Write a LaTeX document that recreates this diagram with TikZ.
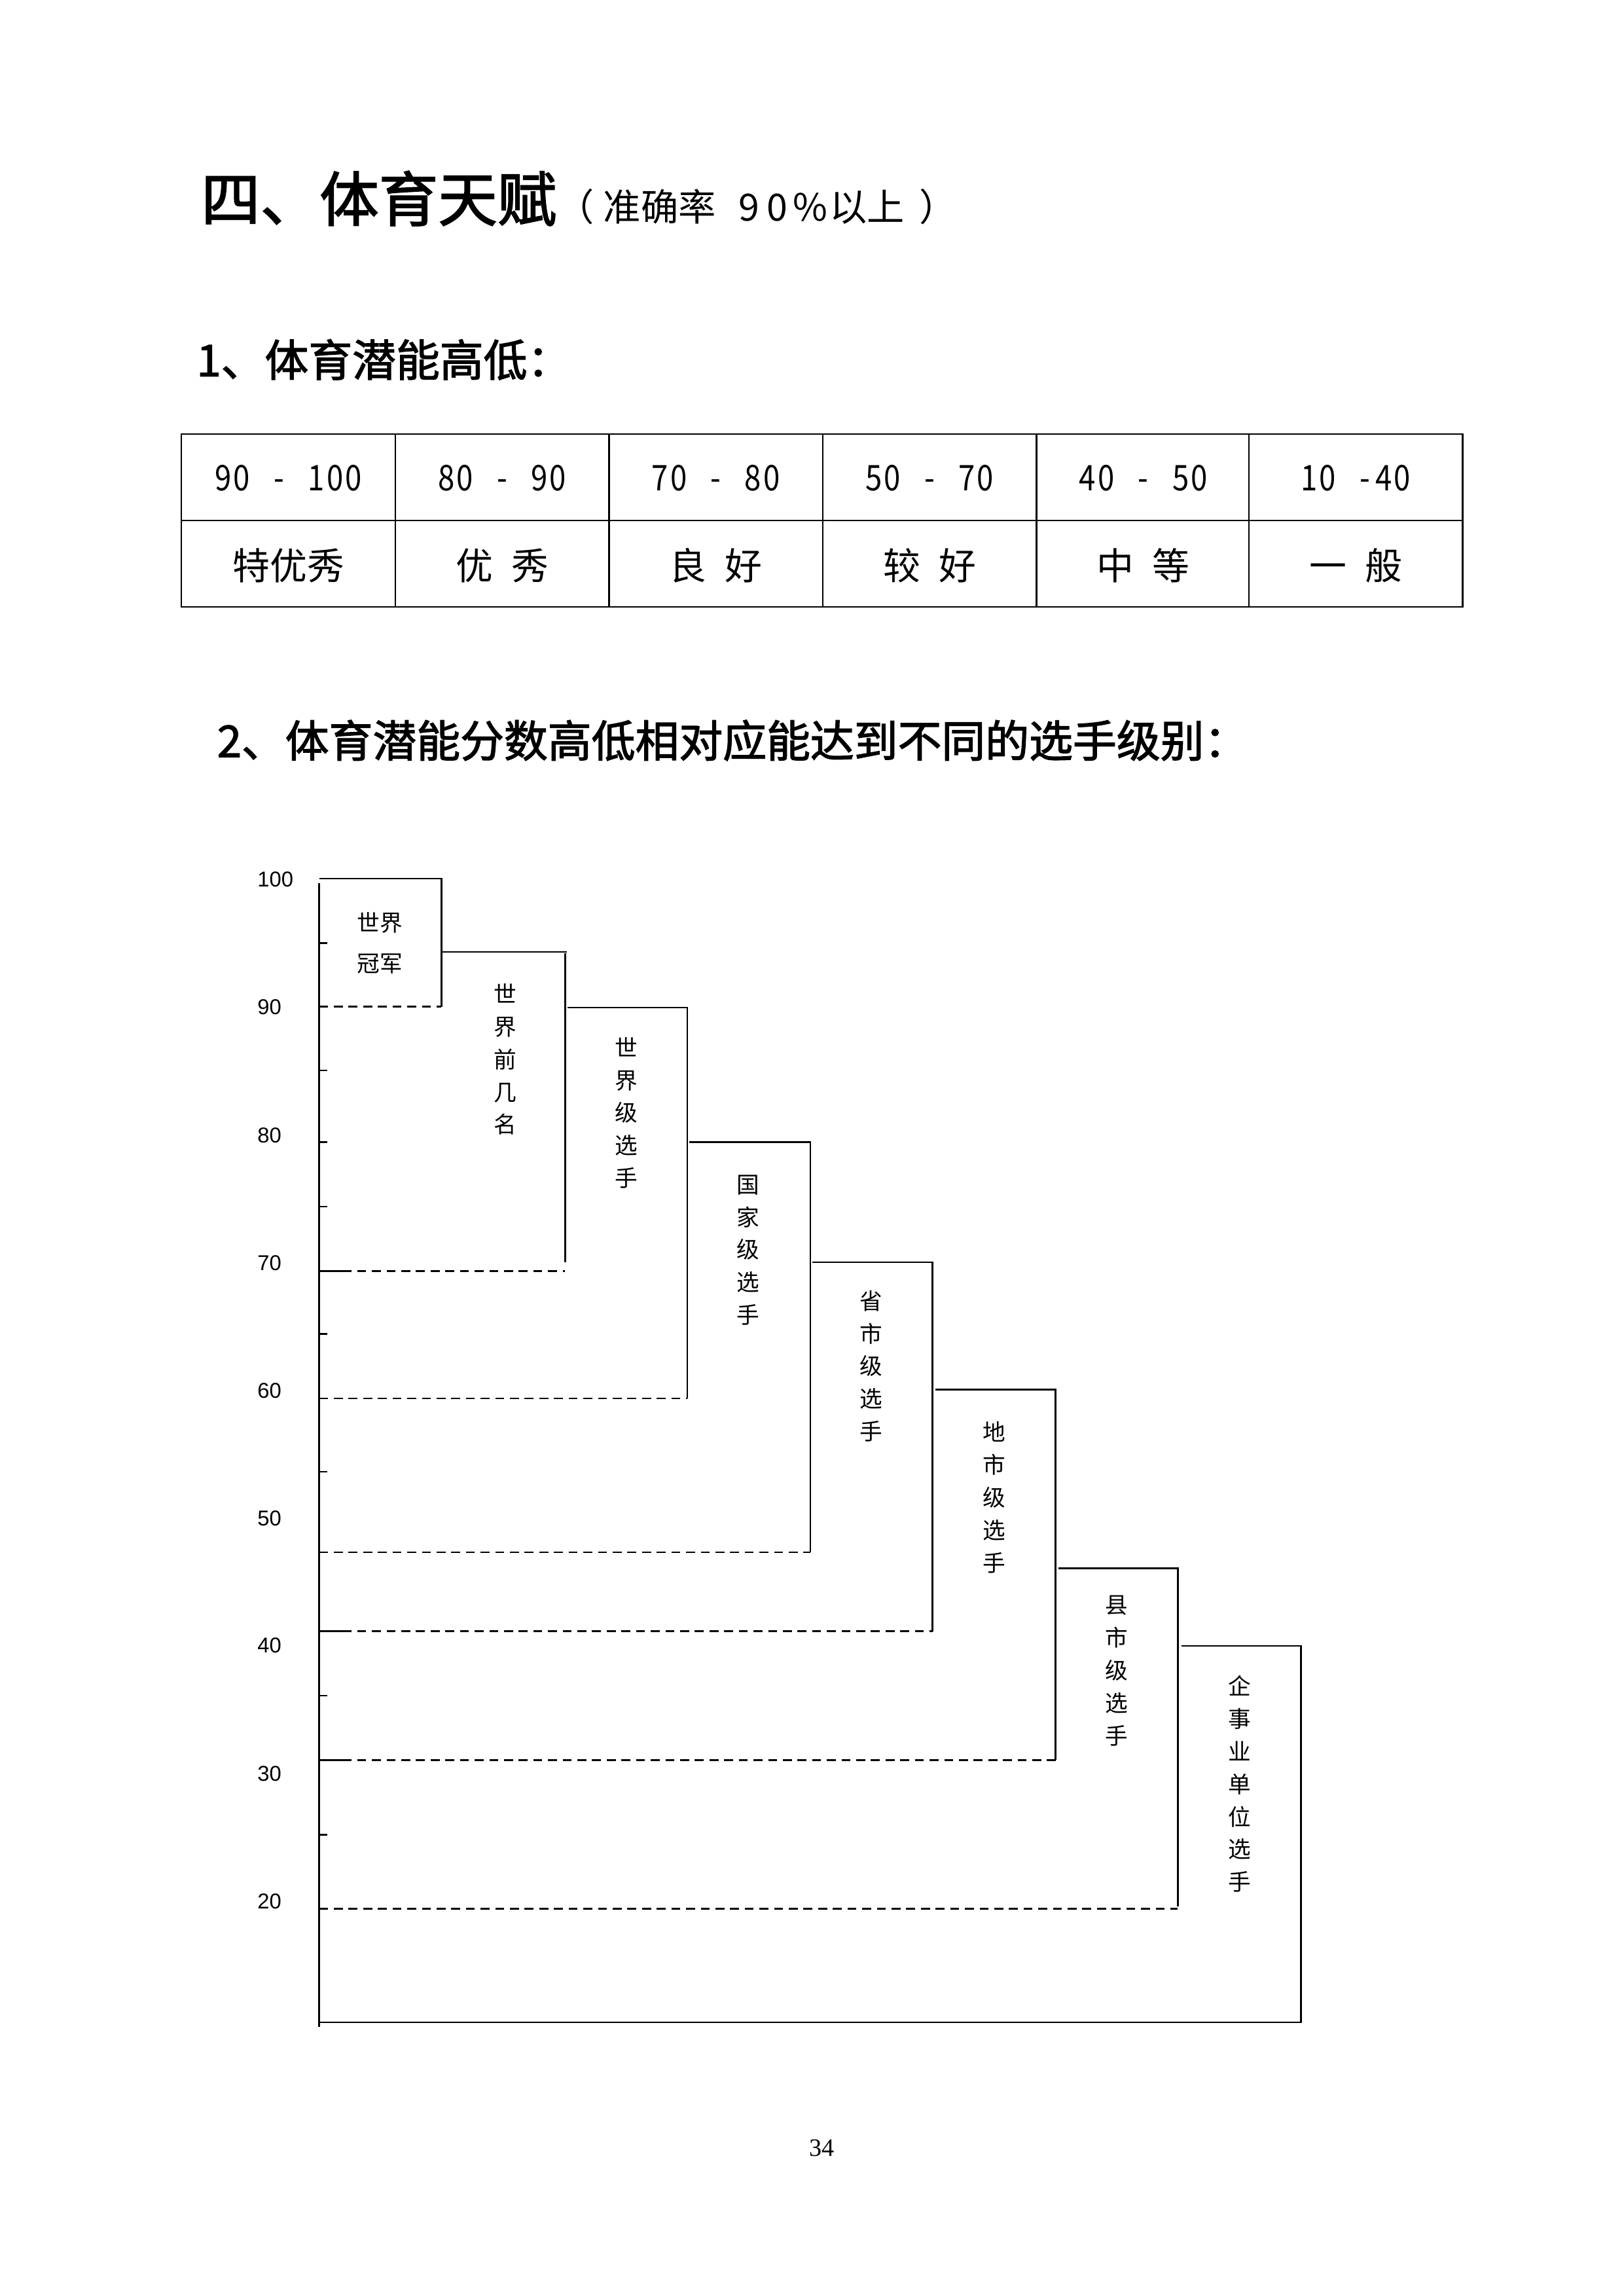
\documentclass[tikz,border=0pt]{standalone}
\usepackage{fontspec}
\usepackage{graphicx}
\newfontfamily\hei{Noto Sans CJK SC}
\newfontfamily\heib[FakeBold=2]{Noto Sans CJK SC}
\newfontfamily\lsans{Liberation Sans}
\newfontfamily\lserif{Liberation Serif}
\newcommand\hc[1]{\makebox[0.5em]{\scalebox{0.8}[0.95]{#1}}}
\begin{document}
\begin{tikzpicture}[x=0.5387pt,y=-0.5387pt]
\tikzset{
  tabline/.style={line width=0.55pt},
  solidline/.style={line width=0.6pt},
  dashline/.style={line width=0.6pt, dash pattern=on 3.3pt off 2.1pt},
  axisline/.style={line width=0.75pt},
  lvl/.style={font={\hei\fontsize{8.35pt}{12pt}\selectfont}, align=center, inner sep=0pt},
  ylab/.style={font={\lsans\fontsize{7.9pt}{9pt}\selectfont}, anchor=base west, inner sep=0pt},
  celltext/.style={font={\hei\fontsize{13.7pt}{16pt}\selectfont}, anchor=base, inner sep=0pt},
  heading/.style={anchor=base west, inner sep=0pt, font={\heib\fontsize{16.1pt}{20pt}\selectfont}},
}
\fill[white] (0,0) rectangle (1109,1568);
\useasboundingbox (0,0) rectangle (1109,1568);

% title and headings
\node[anchor=base west, inner sep=0pt] (title) at (137,151)
  {{\heib\fontsize{21.8pt}{26pt}\selectfont 四、体育天赋}{\hei\fontsize{13.8pt}{16pt}\selectfont （\hspace{0.25em}准确率\hspace{0.6em}9\hspace{0.2em}0\hspace{0.15em}\%\hspace{0.05em}以上\hspace{0.4em}）}};
\node[heading] (head1) at (134,257) {1、体育潜能高低：};
\node[heading] (head2) at (148,517) {2、体育潜能分数高低相对应能达到不同的选手级别：};

% table
\draw[tabline] (124,296.5) rectangle (999,414.5);
\draw[tabline] (124,355.5) -- (999,355.5);
\foreach \xx in {270,416,562,708,853} \draw[tabline] (\xx,296.5) -- (\xx,414.5);

\node[celltext] (r1c1) at (197,335) {\hc9\hc0\hc{}\hc-\hc{}\hc1\hc0\hc0};
\node[celltext] (r1c2) at (343,335) {\hc8\hc0\hc{}\hc-\hc{}\hc9\hc0};
\node[celltext] (r1c3) at (489,335) {\hc7\hc0\hc{}\hc-\hc{}\hc8\hc0};
\node[celltext] (r1c4) at (635,335) {\hc5\hc0\hc{}\hc-\hc{}\hc7\hc0};
\node[celltext] (r1c5) at (781,335) {\hc4\hc0\hc{}\hc-\hc{}\hc5\hc0};
\node[celltext] (r1c6) at (926,335) {\hc1\hc0\hc{}\hc-\hc4\hc0};

\node[celltext] (r2c1) at (197,395.7) {特优秀};
\node[celltext] (r2c2) at (343,395.7) {优\hspace{0.5em}秀};
\node[celltext] (r2c3) at (489,395.7) {良\hspace{0.5em}好};
\node[celltext] (r2c4) at (635,395.7) {较\hspace{0.5em}好};
\node[celltext] (r2c5) at (781,395.7) {中\hspace{0.5em}等};
\node[celltext] (r2c6) at (926,395.7) {一\hspace{0.5em}般};

% y axis labels
\node[ylab] (y100) at (175.5,605.8) {100};
\node[ylab] (y90) at (175.5,693) {90};
\node[ylab] (y80) at (175.5,780.3) {80};
\node[ylab] (y70) at (175.5,867.8) {70};
\node[ylab] (y60) at (175.5,954.8) {60};
\node[ylab] (y50) at (175.5,1041.9) {50};
\node[ylab] (y40) at (175.5,1128.9) {40};
\node[ylab] (y30) at (175.5,1216.3) {30};
\node[ylab] (y20) at (175.5,1303.3) {20};

% steps
\draw[solidline] (218,600) -- (301.5,600) -- (301.5,687.5);
\draw[dashline] (218,687.5) -- (301.5,687.5);
\draw[solidline] (302,650) -- (387,650);
\draw[solidline] (386,651) -- (386,862);
\draw[solidline] (218,868) -- (240,868);
\draw[dashline] (244,868) -- (386,868);
\draw[solidline] (387.6,688) -- (469.4,688) -- (469.4,955);
\draw[dashline] (218,955) -- (469.4,955);
\draw[solidline] (471,780) -- (553.5,780) -- (553.5,1060);
\draw[dashline] (218,1060) -- (553.5,1060);
\draw[solidline] (555,862) -- (637,862) -- (637,1114);
\draw[solidline] (218,1114) -- (240,1114);
\draw[dashline] (244,1114) -- (637,1114);
\draw[solidline] (639,949) -- (721,949) -- (721,1202);
\draw[solidline] (218,1202) -- (240,1202);
\draw[dashline] (244,1202) -- (721,1202);
\draw[solidline] (723,1071) -- (804.5,1071) -- (804.5,1302);
\draw[dashline] (218,1303.5) -- (804.5,1303.5);
\draw[solidline] (807,1124) -- (888.6,1124) -- (888.6,1381) -- (218,1381);
\draw[axisline] (218,603) -- (218,1384);
\foreach \yy in {644,731,780,824,911,1005,1158,1253} \draw[solidline] (218,\yy) -- (223.5,\yy);

% level labels
\node[lvl, font={\hei\fontsize{8.35pt}{15pt}\selectfont}] (champ) at (259.5,644) {世界\\冠军};
\node[lvl] (top) at (345,723.5) {世\\界\\前\\几\\名};
\node[lvl] (world) at (427.8,760) {世\\界\\级\\选\\手};
\node[lvl] (nation) at (511,853.7) {国\\家\\级\\选\\手};
\node[lvl] (prov) at (595,933) {省\\市\\级\\选\\手};
\node[lvl] (city) at (679,1022.7) {地\\市\\级\\选\\手};
\node[lvl] (county) at (762.5,1141) {县\\市\\级\\选\\手};
\node[lvl] (unit) at (846.7,1218.3) {企\\事\\业\\单\\位\\选\\手};

% page number
\node[anchor=base, inner sep=0pt, font={\lserif\fontsize{9.2pt}{11pt}\selectfont}] (page) at (561.3,1472.5) {34};
\end{tikzpicture}
\end{document}
